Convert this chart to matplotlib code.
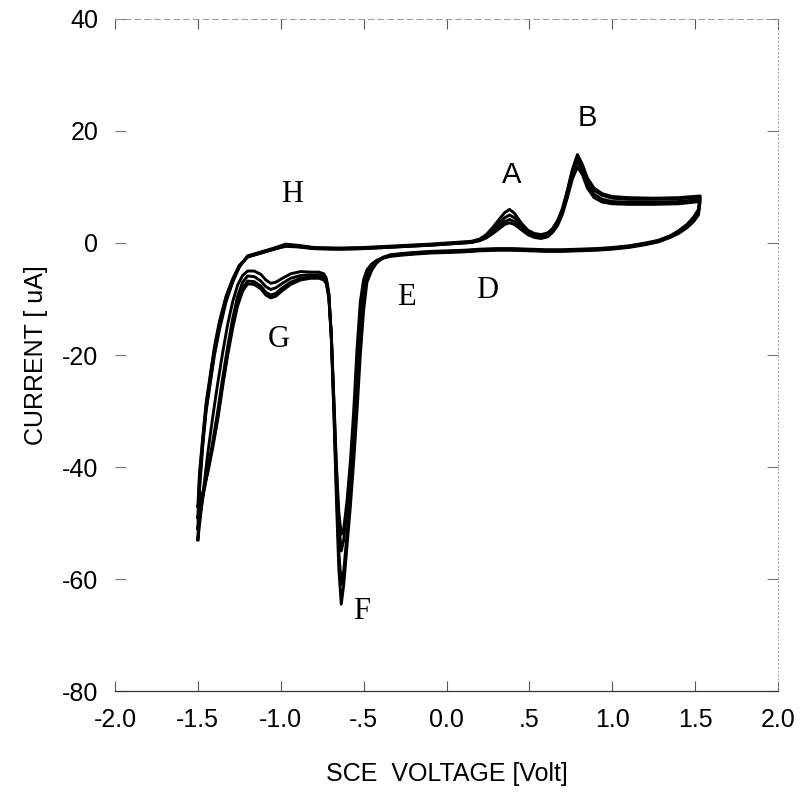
import matplotlib
matplotlib.use("Agg")
import matplotlib.pyplot as plt

# =============================================================================
# Data (4 overlaid cycles)
# =============================================================================

# anodic sweep, -1.5 V -> +1.53 V
volt_anodic = [-1.50, -1.49, -1.47, -1.45, -1.43, -1.40, -1.37, -1.33, -1.29, -1.25,
               -1.20, -1.12, -1.04, -0.97, -0.90, -0.80, -0.65, -0.50, -0.30, -0.10,
               0.05, 0.15, 0.20, 0.24, 0.28, 0.32, 0.35, 0.38, 0.41, 0.45,
               0.49, 0.53, 0.57, 0.61, 0.64, 0.67, 0.70, 0.73, 0.76, 0.79,
               0.82, 0.85, 0.89, 0.94, 1.00, 1.10, 1.25, 1.40, 1.53]

cur_anodic_1 = [-53.0, -44.0, -36.0, -30.0, -26.0, -20.0, -15.5, -10.5, -7.0, -4.3,
                -2.3, -1.6, -0.9, -0.2, -0.4, -0.8, -0.9, -0.8, -0.5, -0.2,
                0.1, 0.3, 0.7, 1.5, 2.8, 4.3, 5.4, 6.0, 5.3, 3.6,
                2.3, 1.7, 1.5, 1.8, 2.6, 4.0, 6.2, 9.5, 13.2, 15.8,
                14.0, 11.6, 9.8, 8.8, 8.3, 8.1, 8.0, 8.1, 8.4]
cur_anodic_2 = [-51.0, -43.0, -35.5, -29.5, -25.5, -19.5, -15.0, -10.0, -6.8, -4.2,
                -2.4, -1.7, -1.0, -0.4, -0.5, -0.9, -1.0, -0.9, -0.6, -0.3,
                0.0, 0.2, 0.6, 1.3, 2.4, 3.6, 4.5, 5.0, 4.5, 3.2,
                2.1, 1.5, 1.3, 1.6, 2.4, 3.8, 6.0, 9.3, 13.0, 15.5,
                13.8, 11.2, 9.4, 8.5, 8.0, 7.8, 7.8, 7.9, 8.2]
cur_anodic_3 = [-49.0, -42.0, -35.0, -29.0, -25.0, -19.0, -14.5, -9.8, -6.6, -4.1,
                -2.5, -1.8, -1.1, -0.5, -0.6, -1.0, -1.1, -1.0, -0.7, -0.4,
                -0.1, 0.1, 0.5, 1.1, 2.0, 3.0, 3.8, 4.2, 3.8, 2.8,
                1.8, 1.2, 1.0, 1.3, 2.1, 3.4, 5.6, 8.8, 12.3, 14.6,
                13.0, 10.5, 8.7, 7.8, 7.4, 7.3, 7.3, 7.4, 7.8]
cur_anodic_4 = [-47.0, -41.0, -34.5, -28.5, -24.5, -18.5, -14.0, -9.5, -6.4, -4.0,
                -2.5, -1.8, -1.1, -0.6, -0.7, -1.0, -1.1, -1.0, -0.7, -0.4,
                -0.1, 0.1, 0.4, 0.9, 1.7, 2.6, 3.3, 3.6, 3.3, 2.4,
                1.5, 1.0, 0.8, 1.1, 1.9, 3.1, 5.2, 8.2, 11.5, 13.6,
                12.2, 9.8, 8.1, 7.3, 7.0, 6.9, 6.9, 7.0, 7.4]

# cathodic sweep, +1.52 V -> -1.5 V
volt_cathodic = [1.52, 1.49, 1.45, 1.40, 1.35, 1.28, 1.20, 1.10, 1.00, 0.90,
                 0.80, 0.70, 0.60, 0.50, 0.40, 0.30, 0.20, 0.10, 0.00, -0.10,
                 -0.20, -0.28, -0.34, -0.38, -0.42, -0.45, -0.48, -0.50, -0.52, -0.54,
                 -0.56, -0.58, -0.60, -0.62, -0.635, -0.65, -0.665, -0.68, -0.695, -0.71,
                 -0.725, -0.74, -0.77, -0.82, -0.88, -0.94, -0.99, -1.03, -1.06, -1.09,
                 -1.12, -1.16, -1.20, -1.23, -1.26, -1.29, -1.32, -1.35, -1.38, -1.41,
                 -1.44, -1.47, -1.50]

cur_cathodic_1 = [6.0, 4.6, 3.3, 2.2, 1.3, 0.5, 0.0, -0.5, -0.8, -1.0,
                  -1.1, -1.2, -1.2, -1.1, -1.0, -1.0, -1.1, -1.3, -1.4, -1.5,
                  -1.7, -1.9, -2.1, -2.6, -3.5, -4.8, -7.0, -12.0, -20.0, -30.0,
                  -39.0, -47.0, -54.0, -61.0, -64.5, -58.0, -45.0, -30.0, -17.0, -9.0,
                  -6.3, -5.5, -5.2, -5.2, -5.1, -5.5, -6.3, -7.0, -7.2, -6.6,
                  -5.6, -5.0, -5.0, -5.8, -7.5, -10.5, -14.5, -19.5, -25.0, -31.0,
                  -37.5, -45.0, -53.0]
cur_cathodic_2 = [5.8, 4.4, 3.1, 2.0, 1.2, 0.4, -0.1, -0.6, -0.9, -1.1,
                  -1.2, -1.3, -1.3, -1.2, -1.1, -1.1, -1.2, -1.4, -1.5, -1.6,
                  -1.8, -2.0, -2.2, -2.5, -3.2, -4.3, -6.0, -9.5, -16.5, -27.0,
                  -37.0, -45.0, -52.0, -58.5, -61.0, -55.0, -43.0, -29.0, -16.5, -9.0,
                  -6.6, -6.0, -5.7, -5.7, -5.8, -6.3, -7.2, -8.0, -8.3, -7.8,
                  -6.8, -6.0, -5.9, -7.0, -9.5, -13.5, -18.5, -24.0, -30.0, -35.5,
                  -40.5, -45.5, -51.0]
cur_cathodic_3 = [5.4, 4.1, 2.9, 1.9, 1.1, 0.3, -0.2, -0.7, -1.0, -1.2,
                  -1.3, -1.4, -1.4, -1.3, -1.2, -1.2, -1.3, -1.5, -1.6, -1.7,
                  -1.9, -2.1, -2.3, -2.6, -3.1, -3.9, -5.5, -7.5, -13.0, -23.0,
                  -33.0, -41.0, -47.5, -53.0, -55.0, -50.0, -40.0, -28.0, -16.5, -9.5,
                  -7.0, -6.4, -6.1, -6.1, -6.3, -7.0, -8.0, -9.0, -9.3, -8.8,
                  -7.7, -6.9, -6.8, -8.0, -10.5, -14.5, -19.5, -25.0, -31.0, -36.0,
                  -40.5, -45.0, -49.0]
cur_cathodic_4 = [5.0, 3.8, 2.7, 1.7, 1.0, 0.2, -0.3, -0.8, -1.1, -1.3,
                  -1.4, -1.5, -1.5, -1.4, -1.3, -1.3, -1.4, -1.6, -1.7, -1.8,
                  -2.0, -2.2, -2.4, -2.7, -3.1, -3.7, -4.8, -6.5, -10.5, -19.0,
                  -30.0, -39.0, -46.0, -51.0, -52.0, -48.0, -39.0, -27.5, -16.5, -9.8,
                  -7.3, -6.6, -6.3, -6.3, -6.6, -7.4, -8.5, -9.5, -9.8, -9.3,
                  -8.2, -7.4, -7.3, -8.6, -11.2, -15.2, -20.0, -25.5, -31.5, -36.5,
                  -41.0, -44.5, -47.0]

# peak labels and where they sit (data coords)
peak_names = ['A', 'B', 'D', 'E', 'F', 'G', 'H']
peak_x = [0.395, 0.85, 0.245, -0.245, -0.51, -1.01, -0.93]
peak_y = [12.1, 22.3, -8.4, -9.8, -65.8, -17.3, 8.6]

x_ticks = [-2.0, -1.5, -1.0, -0.5, 0.0, 0.5, 1.0, 1.5, 2.0]
x_tick_labels = ['-2.0', '-1.5', '-1.0', '-.5', '0.0', '.5', '1.0', '1.5', '2.0']
y_ticks = [-80, -60, -40, -20, 0, 20, 40]

# =============================================================================
# Plot
# =============================================================================
plt.rcParams['font.family'] = ['Liberation Sans', 'DejaVu Sans']
plt.rcParams['axes.unicode_minus'] = False

fig = plt.figure(figsize=(8.03, 8.01), dpi=100)
ax = fig.add_axes([0.1432, 0.1373, 0.8257, 0.8390])

anodic = [cur_anodic_1, cur_anodic_2, cur_anodic_3, cur_anodic_4]
cathodic = [cur_cathodic_1, cur_cathodic_2, cur_cathodic_3, cur_cathodic_4]
for ia, ic in zip(anodic, cathodic):
    ax.plot(volt_anodic + volt_cathodic, ia + ic, color='black', linewidth=2.1,
            solid_joinstyle='round')

for name, px, py in zip(peak_names, peak_x, peak_y):
    if name in ('A', 'B'):
        ax.text(px, py, name, fontsize=21, ha='center', va='center',
                family=['Liberation Sans'])
    else:
        ax.text(px, py, name, fontsize=22, ha='center', va='center',
                family=['Liberation Serif'])

ax.set_xlim(-2.0, 2.0)
ax.set_ylim(-80, 40)
ax.set_xticks(x_ticks)
ax.set_xticklabels(x_tick_labels)
ax.set_yticks(y_ticks)

ax.spines['left'].set_visible(False)
ax.spines['bottom'].set_color('#333333')
ax.spines['bottom'].set_linewidth(0.9)
ax.spines['top'].set_color('#9a9a9a')
ax.spines['top'].set_linewidth(0.7)
ax.spines['top'].set_linestyle((0, (6, 4)))
ax.spines['right'].set_color('#9a9a9a')
ax.spines['right'].set_linewidth(0.7)
ax.spines['right'].set_linestyle((0, (1, 3)))

ax.tick_params(axis='x', direction='in', length=7, width=0.8, color='#555555',
               top=True, labelsize=18, pad=12)
ax.tick_params(axis='y', direction='in', length=8, width=0.8, color='#777777',
               right=True, labelsize=18, pad=12)

ax.set_xlabel('SCE  VOLTAGE [Volt]', fontsize=18, labelpad=22)
ax.set_ylabel('CURRENT [ uA]', fontsize=18, labelpad=10)

fig.savefig('out.png', dpi=100)
